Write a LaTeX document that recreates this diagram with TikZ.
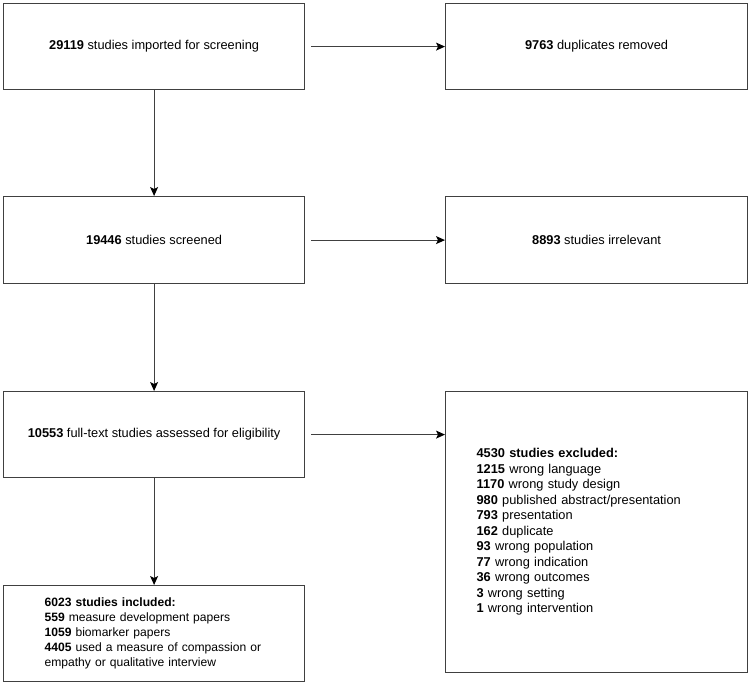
\documentclass[tikz,border=0pt]{standalone}
\usepackage{fontspec}
\setmainfont{Liberation Sans}
\usetikzlibrary{arrows.meta}
\begin{document}
\begin{tikzpicture}[x=1pt,y=-1pt,
  box/.style={draw=black!75, line width=1.2pt, anchor=north west, inner sep=0pt,
    font=\fontsize{12.8}{15.5}\selectfont, align=center},
  listbox/.style={box, align=left},
  arr/.style={draw=black!75, line width=1.1pt, -{Stealth[length=9pt,width=8pt,inset=2pt,fill=black,color=black]}}]
\useasboundingbox (0,0) rectangle (750,684);
\node[box, minimum width=301pt, minimum height=86pt] (b1) at (3,3) {\textbf{29119} studies imported for screening};
\node[box, minimum width=302pt, minimum height=86pt] (r1) at (445,3) {\textbf{9763} duplicates removed};
\node[box, minimum width=301pt, minimum height=87pt] (b2) at (3,196) {\textbf{19446} studies screened};
\node[box, minimum width=302pt, minimum height=87pt] (r2) at (445,196) {\textbf{8893} studies irrelevant};
\node[box, minimum width=301pt, minimum height=86pt] (b3) at (3,391) {\textbf{10553} full-text studies assessed for eligibility};
\node[listbox, minimum width=302pt, minimum height=281pt, text width=240pt, inner xsep=31pt] (r3) at (445,391)
 {\mbox{\textbf{4530 studies excluded:}}\\
  \mbox{\textbf{1215} wrong language}\\
  \mbox{\textbf{1170} wrong study design}\\
  \mbox{\textbf{980} published abstract/presentation}\\
  \mbox{\textbf{793} presentation}\\
  \mbox{\textbf{162} duplicate}\\
  \mbox{\textbf{93} wrong population}\\
  \mbox{\textbf{77} wrong indication}\\
  \mbox{\textbf{36} wrong outcomes}\\
  \mbox{\textbf{3} wrong setting}\\
  \mbox{\textbf{1} wrong intervention}};
\node[listbox, minimum width=301pt, minimum height=96pt, text width=219pt, inner xsep=41pt,
  font=\fontsize{12.1}{15}\selectfont] (b4) at (3,585)
 {\mbox{\textbf{6023 studies included:}}\\
  \mbox{\textbf{559} measure development papers}\\
  \mbox{\textbf{1059} biomarker papers}\\
  \mbox{\textbf{4405} used a measure of compassion or}\\
  \mbox{empathy or qualitative interview}};
\draw[arr] (b1) -- (b2);
\draw[arr] (b2) -- (b3);
\draw[arr] (b3) -- (b4);
\draw[arr, shorten <=6pt] (b1.east) -- (r1.west);
\draw[arr, shorten <=6pt] (b2.east) -- (r2.west);
\draw[arr, shorten <=6pt] (b3.east) -- (b3.east -| r3.west);
\end{tikzpicture}
\end{document}
